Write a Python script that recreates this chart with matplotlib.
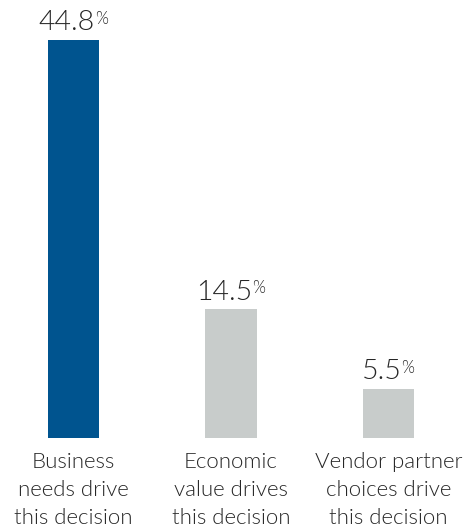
import numpy as np
import matplotlib
matplotlib.use("Agg")
import matplotlib.pyplot as plt

categories = ["Business\nneeds drive\nthis decision",
              "Economic\nvalue drives\nthis decision",
              "Vendor partner\nchoices drive\nthis decision"]
values = [44.8, 14.5, 5.5]
colors = ["#00548f", "#c8cccb", "#c8cccb"]

plt.rcParams['font.family'] = ['Lato', 'DejaVu Sans']
txt_col = "#262626"
wt = 300

fig = plt.figure(figsize=(4.65, 5.31), dpi=100)
ax = fig.add_axes([0, 93 / 531, 1, 438 / 531])

x = np.arange(len(values))
ax.bar(x, values, width=0.324, color=colors)
ax.set_xlim(-73.5 / 157.5, (465 - 73.5) / 157.5)
ax.set_ylim(0, 438 / 8.88)

for xi, v in zip(x, values):
	num = ax.annotate(f"{v:.1f}", xy=(xi, v), xytext=(-5, 7), textcoords="offset points",
		ha="center", va="baseline", fontsize=20.5, color=txt_col, fontweight=wt)
	ax.annotate("%", xy=(1, 0), xycoords=num, xytext=(0, 8.5), textcoords="offset points",
		ha="left", va="baseline", fontsize=12, color=txt_col, fontweight=wt)

ax.set_xticks(x)
ax.set_xticklabels(categories, fontsize=16, color=txt_col, linespacing=1.5, fontweight=wt)
ax.tick_params(axis="x", length=0, pad=10)
ax.set_yticks([])
for s in ax.spines.values():
	s.set_visible(False)

fig.savefig("out.png", dpi=100)
